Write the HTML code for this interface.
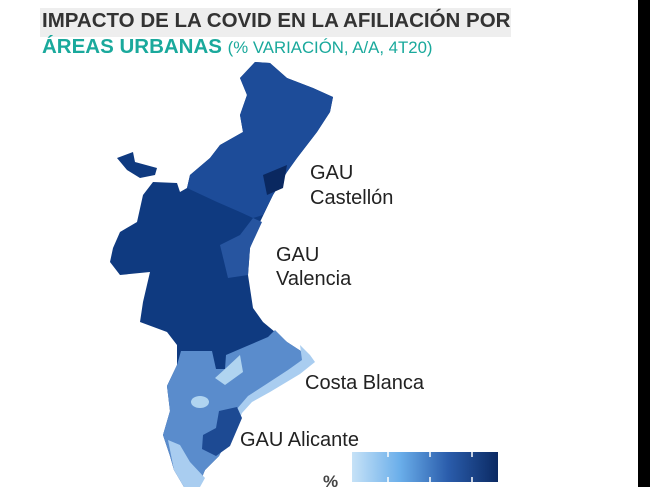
<!DOCTYPE html>
<html><head><meta charset="utf-8"><style>
body{margin:0;width:650px;height:487px;overflow:hidden;background:#fff;position:relative;font-family:"Liberation Sans",sans-serif}
.t{position:absolute;white-space:nowrap}
</style></head><body>
<div style="position:absolute;left:40px;top:8px;width:471px;height:29px;background:#eeeeee"></div>
<div class="t" style="left:42px;top:9px;font-size:20.5px;font-weight:bold;color:#333">IMPACTO DE LA COVID EN LA AFILIACIÓN POR</div>
<div class="t" style="left:42px;top:35px;font-size:20.5px;font-weight:bold;color:#1aa99c">ÁREAS URBANAS <span style="font-weight:normal;font-size:16.8px">(% VARIACIÓN, A/A, 4T20)</span></div>
<div style="position:absolute;left:638px;top:0;width:12px;height:487px;background:#000"></div>
<svg width="650" height="487" style="position:absolute;left:0;top:0">
<polygon fill="#0f3a80" points="255,62 270,63 287,78 313,88 333,97 330,112 317,132 297,158 287,172 273,195 260,222 250,248 248,275 253,308 263,322 287,342 307,355 310,362 296,372 268,390 251,400 240,411 233,428 219,456 205,470 198,487 184,487 174,470 170,456 163,435 170,411 167,386 177,365 177,345 167,332 140,322 143,302 150,272 120,275 110,262 113,248 120,232 137,222 143,195 153,182 177,183 180,192 187,188 190,175 210,158 220,145 243,132 240,115 247,95 240,78"/>
<polygon fill="#0f3a80" points="117,158 133,152 135,162 157,168 155,175 140,178 127,170"/>
<polygon fill="#1d4c99" points="255,62 270,63 287,78 313,88 333,97 330,112 317,132 297,158 287,172 273,195 263,215 253,218 240,212 217,202 187,188 190,175 210,158 220,145 243,132 240,115 247,95 240,78"/>
<polygon fill="#0a2860" points="263,175 287,165 283,188 267,195"/>
<polygon fill="#2755a0" points="253,218 262,222 250,248 248,275 228,278 220,245 240,235"/>
<polygon fill="#5a8ccc" points="275,330 287,342 307,355 310,362 296,372 268,390 251,400 240,411 233,428 219,456 205,470 198,487 184,487 174,470 170,456 163,435 170,411 167,386 177,365 181,351 212,351 216,369 225,369 226,355 247,346 268,337"/>
<polygon fill="#a9cdf0" points="300,345 310,355 315,362 300,374 270,392 252,402 242,413 236,428 230,428 236,410 248,396 265,385 288,370 302,360"/>
<polygon fill="#b0d4f0" points="225,369 240,355 243,372 225,385 215,378"/>
<ellipse cx="200" cy="402" rx="9" ry="6" fill="#b0d4f0"/>
<polygon fill="#1d4a93" points="219,411 237,407 242,418 230,446 216,456 202,449 203,435 216,428"/>
<polygon fill="#a9cdf0" points="168,440 180,445 190,462 205,478 200,487 184,487 174,470"/>
<defs><linearGradient id="g" x1="0" x2="1"><stop offset="0" stop-color="#c6e2f7"/><stop offset="0.33" stop-color="#6aaeea"/><stop offset="0.66" stop-color="#2a5cab"/><stop offset="1" stop-color="#0b2a63"/></linearGradient></defs>
<rect x="352" y="452" width="146" height="30" fill="url(#g)"/>
<g stroke="#fff" stroke-width="1.5"><line x1="388" y1="452" x2="388" y2="457"/><line x1="430" y1="452" x2="430" y2="457"/><line x1="472" y1="452" x2="472" y2="457"/><line x1="388" y1="477" x2="388" y2="482"/><line x1="430" y1="477" x2="430" y2="482"/><line x1="472" y1="477" x2="472" y2="482"/></g>
<g font-family="Liberation Sans, sans-serif" font-size="20" fill="#222">
<text x="310" y="179">GAU</text><text x="310" y="204">Castellón</text>
<text x="276" y="261">GAU</text><text x="276" y="285">Valencia</text>
<text x="305" y="389">Costa Blanca</text>
<text x="240" y="446">GAU Alicante</text>
<text x="323" y="487" font-size="17" font-weight="bold" fill="#444">%</text>
</g>
</svg>
</body></html>
